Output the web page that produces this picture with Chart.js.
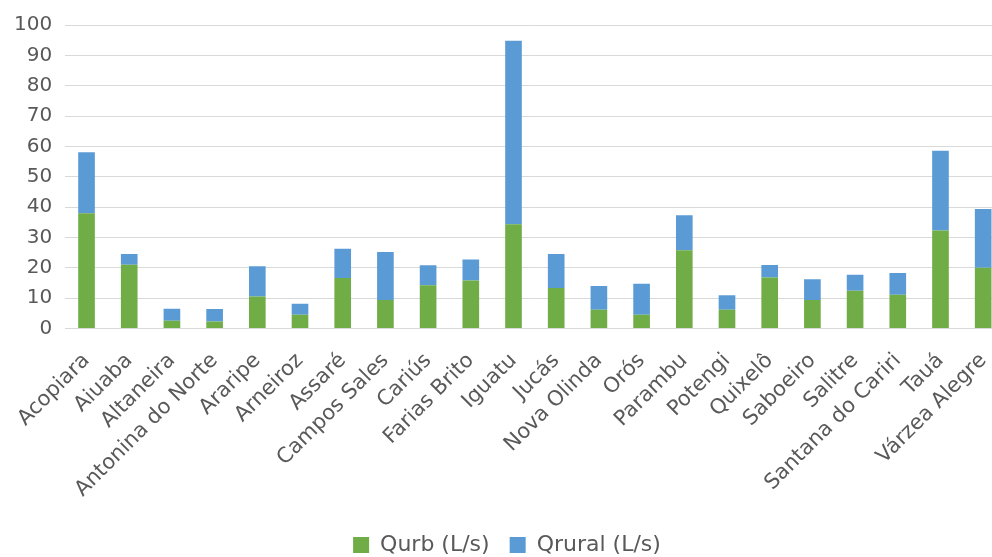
<!DOCTYPE html>
<html>
<head>
<meta charset="utf-8">
<script src="https://cdn.jsdelivr.net/npm/chart.js@4"></script>
<style>
  html, body { margin: 0; padding: 0; background: #fff; overflow: hidden; }
  #wrap { width: 1013px; height: 566px; }
</style>
</head>
<body>
<div id="wrap"><canvas id="chart"></canvas></div>
<script>
// municípios
const municipios = ["Acopiara", "Aiuaba", "Altaneira", "Antonina do Norte", "Araripe", "Arneiroz",
  "Assaré", "Campos Sales", "Cariús", "Farias Brito", "Iguatu", "Jucás", "Nova Olinda", "Orós",
  "Parambu", "Potengi", "Quixelô", "Saboeiro", "Salitre", "Santana do Cariri", "Tauá", "Várzea Alegre"];
const qurb = [38, 21, 2.5, 2.3, 10.5, 4.5, 16.6, 9.4, 14.2, 15.8, 34.3, 13.3, 6.2, 4.5,
  25.8, 6.2, 16.8, 9.4, 12.4, 11.1, 32.3, 20];
const qrural = [20.1, 3.5, 4, 4.1, 10, 3.6, 9.7, 15.8, 6.6, 6.9, 60.5, 11.2, 7.8, 10.2,
  11.5, 4.7, 4.1, 6.8, 5.3, 7.2, 26.3, 19.4];
const yTicks = [0, 10, 20, 30, 40, 50, 60, 70, 80, 90, 100];

const textColor = "#595959";
const fontFamily = "'DejaVu Sans', sans-serif";

new Chart(document.getElementById("chart"), {
  type: "bar",
  data: {
    labels: municipios,
    datasets: [
      { label: "Qurb (L/s)", data: qurb, backgroundColor: "#70AD47" },
      { label: "Qrural (L/s)", data: qrural, backgroundColor: "#5B9BD5" }
    ]
  },
  options: {
    responsive: true,
    maintainAspectRatio: false,
    animation: false,
    categoryPercentage: 1,
    barPercentage: 0.39,
    layout: { padding: { top: 20, left: 1, right: 0, bottom: 0 } },
    plugins: {
      tooltip: { enabled: false },
      legend: {
        position: "bottom",
        labels: {
          color: textColor,
          font: { family: fontFamily, size: 22 },
          boxWidth: 16,
          boxHeight: 16,
          padding: 20
        }
      }
    },
    scales: {
      x: {
        stacked: true,
        grid: { display: false },
        border: { color: "#d9d9d9" },
        ticks: {
          color: textColor,
          font: { family: fontFamily, size: 21 },
          padding: 12,
          minRotation: 45,
          maxRotation: 45,
          autoSkip: false
        }
      },
      y: {
        stacked: true,
        min: 0,
        max: 100,
        afterBuildTicks: axis => { axis.ticks = yTicks.map(v => ({ value: v })); },
        grid: { color: "#d9d9d9", drawTicks: false },
        border: { display: false },
        ticks: {
          color: textColor,
          font: { family: fontFamily, size: 20 },
          padding: 13
        }
      }
    }
  }
});
</script>
</body>
</html>
